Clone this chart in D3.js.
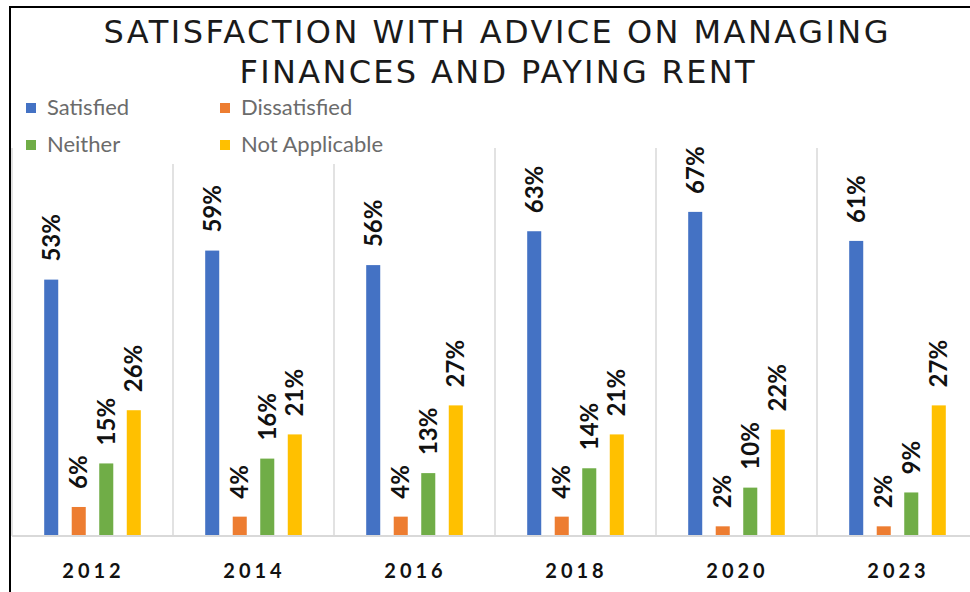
<!doctype html>
<html lang="en">
<head>
    <meta charset="utf-8">
    <script src="https://d3js.org/d3.v7.min.js"></script>
    <title>Satisfaction with advice</title>
    <style>
        body { margin: 0; background: #fff; }
        svg { display: block; }
    </style>
</head>
<body>
    <div id="chart"></div>

    <script>
        // datos (porcentajes)
        var years = ["2012", "2014", "2016", "2018", "2020", "2023"];
        var seriesNames = ["Satisfied", "Dissatisfied", "Neither", "Not Applicable"];
        var satisfied = [53, 59, 56, 63, 67, 61];
        var dissatisfied = [6, 4, 4, 4, 2, 2];
        var neither = [15, 16, 13, 14, 10, 9];
        var notApplicable = [26, 21, 27, 21, 22, 27];
        var colors = ["#4472C4", "#ED7D31", "#70AD47", "#FFC000"];
        var titleLines = ["SATISFACTION WITH ADVICE ON MANAGING", "FINANCES AND PAYING RENT"];

        var allSeries = [satisfied, dissatisfied, neither, notApplicable];

        var width = 970, height = 592;

        var svg = d3.select("#chart")
            .append("svg")
            .attr("width", width)
            .attr("height", height);

        // escalas
        var x0 = d3.scaleBand()
            .domain(years)
            .range([12, 978])
            .padding(0);

        var x1 = d3.scaleBand()
            .domain(seriesNames)
            .range([0, x0.bandwidth()])
            .paddingInner(0.49)
            .paddingOuter(1.17);

        var y = d3.scaleLinear()
            .domain([0, 80])
            .range([536, 149]);

        // lineas divisorias entre categorias
        svg.append("g")
            .selectAll("line")
            .data(years)
            .enter()
            .append("line")
            .attr("x1", function (d) { return x0(d); })
            .attr("x2", function (d) { return x0(d); })
            .attr("y1", y(80) - 1)
            .attr("y2", y(0))
            .style("stroke", "#d9d9d9")
            .style("stroke-width", 1.5);

        // barras
        var groups = svg.append("g")
            .selectAll("g")
            .data(years)
            .enter()
            .append("g")
            .attr("transform", function (d) { return "translate(" + x0(d) + ",0)"; });

        var cells = groups.selectAll("g")
            .data(function (d, i) {
                return seriesNames.map(function (s, j) { return { name: s, value: allSeries[j][i], color: colors[j] }; });
            })
            .enter()
            .append("g");

        cells.append("rect")
            .attr("x", function (d) { return x1(d.name); })
            .attr("y", function (d) { return y(d.value); })
            .attr("width", x1.bandwidth())
            .attr("height", function (d) { return y(0) - y(d.value); })
            .style("fill", function (d) { return d.color; });

        // etiquetas rotadas
        cells.append("text")
            .attr("transform", function (d) {
                return "translate(" + (x1(d.name) + x1.bandwidth() / 2) + "," + (y(d.value) - 18) + ") rotate(-90)";
            })
            .attr("dy", "0.36em")
            .attr("text-anchor", "start")
            .style("font-family", "Lato, 'Noto Sans', sans-serif")
            .style("font-weight", "bold")
            .style("font-size", "24px")
            .style("fill", "#111")
            .text(function (d) { return d.value + "%"; });

        // eje x
        svg.append("line")
            .attr("x1", 12)
            .attr("x2", width)
            .attr("y1", y(0))
            .attr("y2", y(0))
            .style("stroke", "#d9d9d9")
            .style("stroke-width", 2);

        svg.append("g")
            .selectAll("text")
            .data(years)
            .enter()
            .append("text")
            .attr("x", function (d) { return x0(d) + x0.bandwidth() / 2 + 1; })
            .attr("y", 578)
            .attr("text-anchor", "middle")
            .style("font-family", "Lato, 'Noto Sans', sans-serif")
            .style("font-weight", "bold")
            .style("font-size", "20px")
            .style("letter-spacing", "4px")
            .style("fill", "#111")
            .text(function (d) { return d; });

        // titulo
        var titleWidths = [785, 515];
        svg.append("g")
            .selectAll("text")
            .data(titleLines)
            .enter()
            .append("text")
            .attr("x", function (d, i) { return i == 0 ? 496 : 497; })
            .attr("y", function (d, i) { return 43 + i * 40; })
            .attr("text-anchor", "middle")
            .attr("textLength", function (d, i) { return titleWidths[i]; })
            .attr("lengthAdjust", "spacing")
            .style("font-family", "'DejaVu Sans', sans-serif")
            .style("font-size", "32px")
            .style("fill", "#1a1a1a")
            .text(function (d) { return d; });

        // leyenda (fondo blanco tapa las lineas)
        svg.append("rect")
            .attr("x", 13)
            .attr("y", 90)
            .attr("width", 395)
            .attr("height", 74)
            .style("fill", "#fff");

        var legend = svg.append("g")
            .selectAll("g")
            .data(seriesNames)
            .enter()
            .append("g")
            .attr("transform", function (d, i) {
                return "translate(" + (i % 2 == 0 ? 26 : 220) + "," + (i < 2 ? 103 : 140) + ")";
            });

        legend.append("rect")
            .attr("width", 10)
            .attr("height", 10)
            .style("fill", function (d, i) { return colors[i]; });

        legend.append("text")
            .attr("x", 21)
            .attr("y", 12)
            .style("font-family", "Lato, sans-serif")
            .style("font-size", "22px")
            .style("fill", "#6b6b6b")
            .text(function (d) { return d; });

        // borde
        svg.append("line")
            .attr("x1", 9).attr("x2", width)
            .attr("y1", 7).attr("y2", 7)
            .style("stroke", "#000").style("stroke-width", 2);
        svg.append("line")
            .attr("x1", 10).attr("x2", 10)
            .attr("y1", 6).attr("y2", height)
            .style("stroke", "#000").style("stroke-width", 2);
    </script>
</body>
</html>
